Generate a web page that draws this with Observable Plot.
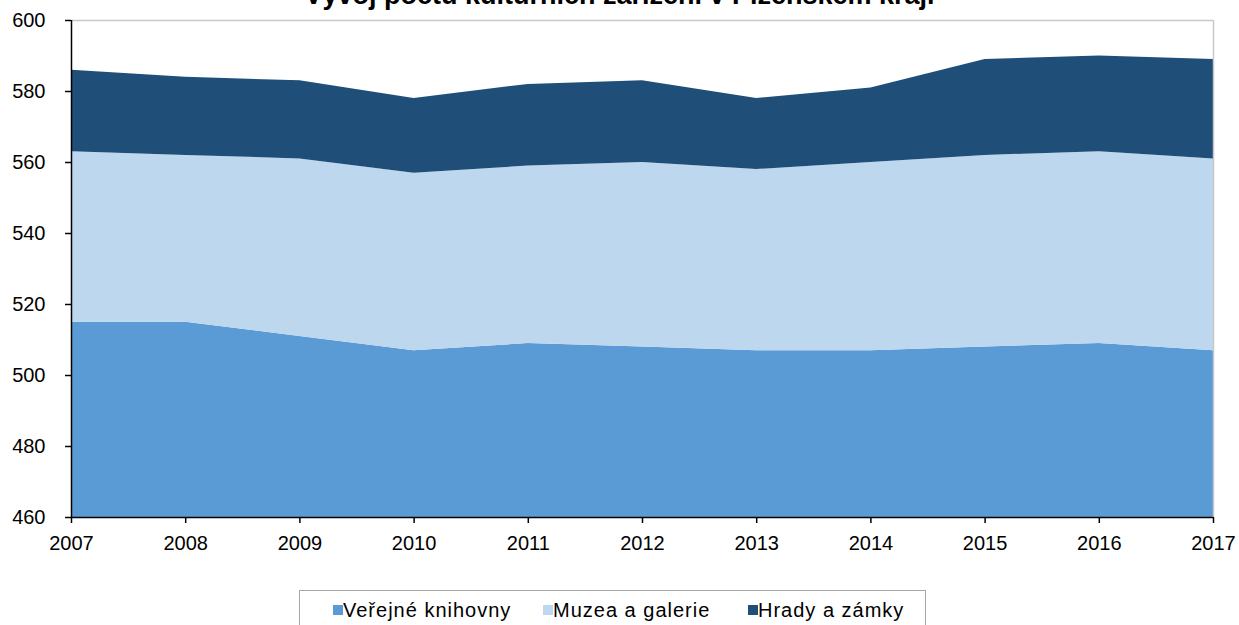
<!DOCTYPE html>
<html>
<head>
<meta charset="utf-8">
<script src="https://cdn.jsdelivr.net/npm/d3@7"></script>
<script src="https://cdn.jsdelivr.net/npm/@observablehq/plot@0.6"></script>
<style>
  html, body { margin: 0; padding: 0; background: #fff; overflow: hidden; }
  #wrap { position: relative; width: 1239px; height: 625px; font-family: "Liberation Sans", Arial, sans-serif; }
  #title { position: absolute; left: 0; width: 1239px; top: -18px; line-height: 27px; text-align: center;
           font-size: 27px; font-weight: bold; color: #000; }
  #chart { position: absolute; left: 0; top: 0; }
  #legend { position: absolute; left: 299px; top: 590px; width: 627px; height: 45px; border: 1px solid #a6a6a6; box-sizing: border-box; }
  .item { position: absolute; top: 8px; font-size: 20px; line-height: 22px; color: #000; letter-spacing: 1px; white-space: nowrap; }
  .sw { position: absolute; width: 10px; height: 10px; top: 6px; left: -10px; }
</style>
</head>
<body>
<div id="wrap">
  <div id="chart"></div>
  <div id="title"></div>
  <div id="legend"></div>
</div>
<script>
const titleText = "Vývoj počtu kulturních zařízení v Plzeňském kraji";
const years = [2007, 2008, 2009, 2010, 2011, 2012, 2013, 2014, 2015, 2016, 2017];
const seriesNames = ["Veřejné knihovny", "Muzea a galerie", "Hrady a zámky"];
const seriesColors = ["#5b9bd5", "#bdd7ee", "#1f4e79"];
const knihovny = [515, 515, 511, 507, 509, 508, 507, 507, 508, 509, 507];
const muzea = [48, 47, 50, 50, 50, 52, 51, 53, 54, 54, 54];
const hrady = [23, 22, 22, 21, 23, 23, 20, 21, 27, 27, 28];
const yTicks = [460, 480, 500, 520, 540, 560, 580, 600];

const seriesValues = [knihovny, muzea, hrady];
const data = [];
seriesNames.forEach((s, i) => years.forEach((yr, j) => data.push({year: yr, series: s, value: seriesValues[i][j]})));

document.getElementById("title").textContent = titleText;

const chart = Plot.plot({
  width: 1239,
  height: 580,
  marginLeft: 71,
  marginRight: 26,
  marginTop: 20,
  marginBottom: 63,
  style: {fontFamily: "'Liberation Sans', Arial, sans-serif", fontSize: "20px", color: "#000", background: "transparent"},
  x: {type: "linear", domain: [2007, 2017], ticks: years, tickFormat: d => String(d), tickSize: 6, tickPadding: 12, label: null},
  y: {domain: [460, 600], ticks: yTicks, tickSize: 6, tickPadding: 20, label: null},
  color: {domain: seriesNames, range: seriesColors},
  marks: [
    Plot.areaY(data, {x: "year", y: "value", fill: "series", order: seriesNames, clip: true}),
    Plot.ruleY([600], {stroke: "#c8c8c8", strokeWidth: 1.5}),
    Plot.ruleX([2017], {stroke: "#c8c8c8", strokeWidth: 1.5}),
    Plot.ruleX([2007], {stroke: "#000", strokeWidth: 1.5}),
    Plot.ruleY([460], {stroke: "#000", strokeWidth: 1.5}),
    Plot.axisX({ticks: years, tickFormat: d => String(d), tickSize: 6, tickPadding: 12, stroke: "#000", strokeWidth: 1.5, fill: "#000"}),
    Plot.axisY({ticks: yTicks, tickSize: 6, tickPadding: 20, stroke: "#000", strokeWidth: 1.5, fill: "#000"})
  ]
});
document.getElementById("chart").appendChild(chart);

const legendLefts = [343, 553, 758];
const legend = document.getElementById("legend");
seriesNames.forEach((s, i) => {
  const it = document.createElement("div");
  it.className = "item";
  it.style.left = (legendLefts[i] - 300) + "px";
  const sw = document.createElement("span");
  sw.className = "sw";
  sw.style.background = seriesColors[i];
  it.appendChild(sw);
  it.appendChild(document.createTextNode(s));
  legend.appendChild(it);
});
</script>
</body>
</html>
